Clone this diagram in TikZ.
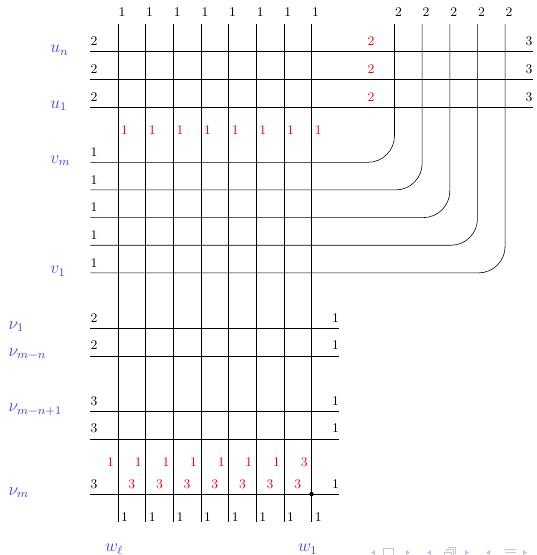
\documentclass[tikz,border=0pt,11pt]{standalone}
\usetikzlibrary{positioning}
\definecolor{nameblue}{RGB}{64,64,255}
\definecolor{navgray}{RGB}{196,196,228}

\begin{document}
\begin{tikzpicture}[
  x=18.8pt, y=-18.8pt, font=\footnotesize,
  wire/.style={draw=black, line width=0.4pt},
  endlbl/.style={inner sep=0pt, yshift=4pt},
  toplbl/.style={above, xshift=2.7pt, yshift=1.5pt},
  botlbl/.style={anchor=base west, inner sep=2pt},
  hot/.style={text=red},
  wname/.style={text=nameblue, font=\fontsize{11.6}{14}\selectfont, anchor=west, inner sep=0pt, yshift=1pt},
  navtip/.style={fill=navgray, draw=none},
  navbox/.style={draw=navgray, line width=0.6pt}
]
\useasboundingbox (-4.268,-1.870) rectangle (15.118,18.203);

% strands that carry 1
\foreach \i in {0,...,7} {
  \coordinate (ct\i) at (\i,-1);
  \coordinate (cb\i) at (\i,17);
  \draw[wire] (ct\i) -- (cb\i);
  \node[toplbl] (t\i) at (ct\i) {1};
  \node[botlbl] (b\i) at (cb\i) {1};
  \node[botlbl, hot] (r\i) at (\i,3) {1};
}
\foreach \i in {0,...,6} {
  \node[anchor=base east, inner sep=2.5pt, hot] (q\i) at (\i,15) {1};
  \node[above, hot] (s\i) at (\i+0.5,16) {3};
}
\node[anchor=base east, inner sep=2.5pt, hot] (q7) at (7,15) {3};

% rows u
\foreach \j in {0,1,2} {
  \coordinate (ul\j) at (-1,\j);
  \coordinate (ur\j) at (15,\j);
  \draw[wire] (ul\j) -- (ur\j);
  \node[endlbl, anchor=base west] (ua\j) at (ul\j) {2};
  \node[endlbl, anchor=base east] (ub\j) at (ur\j) {3};
  \node[endlbl, anchor=base, hot] (uc\j) at (9.15,\j) {2};
}

% rows v, bending up into the strands that carry 2
\foreach \k in {0,...,4} {
  \pgfmathtruncatemacro\c{10+\k}
  \pgfmathtruncatemacro\r{4+\k}
  \coordinate (vl\k) at (-1,\r);
  \coordinate (vc\k) at (\c,\r);
  \coordinate (vt\k) at (\c,-1);
  \draw[wire, rounded corners=18pt] (vl\k) -- (vc\k) -- (vt\k);
  \node[endlbl, anchor=base west] (va\k) at (vl\k) {1};
  \node[toplbl] (t\c) at (vt\k) {2};
}

% rows nu
\foreach \j/\a in {10/2, 11/2, 13/3, 14/3, 16/3} {
  \coordinate (nl\j) at (-1,\j);
  \coordinate (nr\j) at (8,\j);
  \draw[wire] (nl\j) -- (nr\j);
  \node[endlbl, anchor=base west] (na\j) at (nl\j) {\a};
  \node[endlbl, anchor=base east] (nb\j) at (nr\j) {1};
}
\node[circle, fill=black, inner sep=0pt, minimum size=3pt] (meet) at (7,16) {};

% names
\node[wname] (un)    at (-2.46,0)  {$u_n$};
\node[wname] (u1)    at (-2.46,2)  {$u_1$};
\node[wname] (vm)    at (-2.46,4)  {$v_m$};
\node[wname] (v1)    at (-2.46,8)  {$v_1$};
\node[wname] (nu1)   at (-3.97,10) {$\nu_1$};
\node[wname] (numn)  at (-3.97,11) {$\nu_{m-n}$};
\node[wname] (numn1) at (-3.97,13) {$\nu_{m-n+1}$};
\node[wname] (num)   at (-3.97,16) {$\nu_m$};
\node[wname, anchor=center, xshift=-2.6pt, yshift=-1pt] (wl) at (0,18) {$w_\ell$};
\node[wname, anchor=center, xshift=-2.6pt, yshift=-1pt] (w1) at (7,18) {$w_1$};

% navigation symbols, in pixels from the top left corner
\begin{scope}[shift={(-4.268,-1.870)}, x=0.68pt, y=-0.68pt]
  \foreach \p in {373,429,488}
    \fill[navtip] (\p+2,550) -- (\p-2,552.5) -- (\p+2,555) -- cycle;
  \foreach \p in {408,467,525}
    \fill[navtip] (\p-2,550) -- (\p+2,552.5) -- (\p-2,555) -- cycle;
  \draw[navbox] (383.5,548.5) rectangle (393.5,558);
  \draw[navbox] (444,552) rectangle (451,559);
  \draw[navbox] (446,550) -- (446,549.5) -- (453,549.5) -- (453,556.5);
  \draw[navbox] (448,547.5) -- (455.5,547.5) -- (455.5,554);
  \foreach \h in {549,552,555}
    \draw[navbox] (505,\h) -- (516,\h);
\end{scope}
\end{tikzpicture}
\end{document}
